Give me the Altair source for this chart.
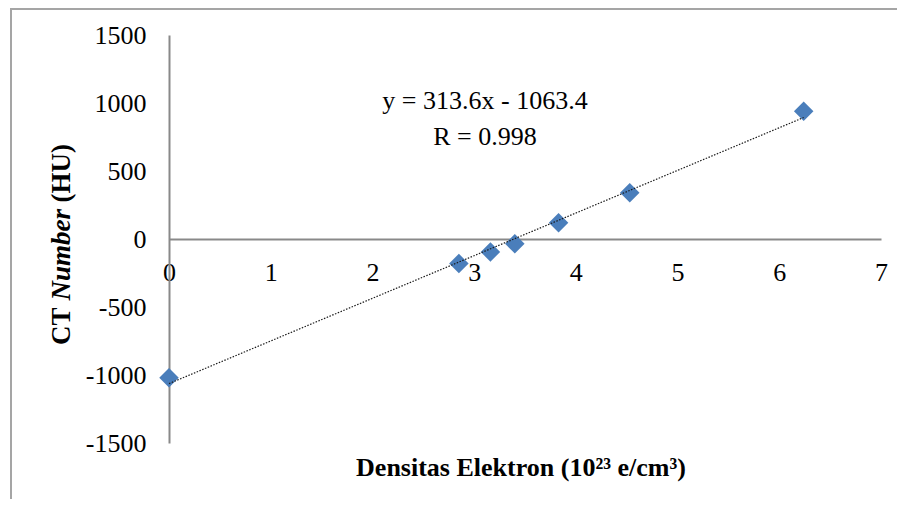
import altair as alt
import pandas as pd

# ---- data ----
x_vals = [0.0, 2.85, 3.16, 3.40, 3.83, 4.53, 6.24]
y_vals = [-1020, -180, -95, -35, 120, 340, 940]
slope = 313.6
intercept = -1063.4
r_value = 0.998
x_ticks = [0, 1, 2, 3, 4, 5, 6, 7]
y_ticks = [-1500, -1000, -500, 0, 500, 1000, 1500]

eq_text = f"y = {slope}x - {abs(intercept)}"
r_text = f"R = {r_value}"
x_title = "Densitas Elektron (10\u00b2\u00b3 e/cm\u00b3)"
y_title_parts = ["CT", "Number", "(HU)"]

W, H = 712, 408
FONT = "Liberation Serif"
FS = 26
YT_FS = 27
AXIS_COLOR = "#898989"

df = pd.DataFrame({"x": x_vals, "y": y_vals})
trend = pd.DataFrame({"x": [min(x_vals), max(x_vals)]})
trend["y"] = slope * trend["x"] + intercept

xs = alt.Scale(domain=[0, 7], nice=False, zero=False)
ys = alt.Scale(domain=[-1500, 1500], nice=False, zero=False)

x_axis = alt.Axis(values=x_ticks, offset=-H / 2, ticks=False, tickSize=0, grid=False,
                  domainColor=AXIS_COLOR, domainWidth=2, labelFont=FONT, labelFontSize=FS,
                  labelColor="black", labelPadding=20, title=None, labelFlush=False,
                  labelOverlap=False, labelExpr="'' + datum.value")
y_axis = alt.Axis(values=y_ticks, ticks=False, tickSize=0, grid=False,
                  domainColor=AXIS_COLOR, domainWidth=2, labelFont=FONT, labelFontSize=FS,
                  labelColor="black", labelPadding=23, title=None, labelFlush=False,
                  labelOverlap=False, labelBaseline="middle",
                  labelExpr="'' + datum.value")

one = pd.DataFrame({"a": [0]})

border = alt.Chart(one).mark_rect(fill="white", fillOpacity=0, stroke="#a5a5a5",
                                  strokeWidth=2).encode(
    x=alt.value(-158), y=alt.value(-26), x2=alt.value(W + 60), y2=alt.value(H + 120))

points = alt.Chart(df).mark_point(shape="diamond", filled=True, size=380,
                                  color="#4a7ebb", opacity=1).encode(
    x=alt.X("x:Q", scale=xs, axis=x_axis),
    y=alt.Y("y:Q", scale=ys, axis=y_axis),
)

line = alt.Chart(trend).mark_line(color="#1a1a1a", strokeWidth=1.2,
                                  strokeDash=[1.5, 1.5]).encode(
    x=alt.X("x:Q", scale=xs), y=alt.Y("y:Q", scale=ys))

eq = alt.Chart(pd.DataFrame({"t": [eq_text]})).mark_text(
    font=FONT, fontSize=FS, color="black", align="center", baseline="alphabetic").encode(
    x=alt.value(316), y=alt.value(74), text="t:N")
rr = alt.Chart(pd.DataFrame({"t": [r_text]})).mark_text(
    font=FONT, fontSize=FS, color="black", align="center", baseline="alphabetic").encode(
    x=alt.value(316), y=alt.value(110), text="t:N")

xt = alt.Chart(pd.DataFrame({"t": [x_title]})).mark_text(
    font=FONT, fontSize=FS, fontWeight="bold", color="black", align="center",
    baseline="middle").encode(x=alt.value(352), y=alt.value(433), text="t:N")

# y title in three pieces (bold, bold italic, bold), rotated
yt_x = -107
starts = [310.0, 265.5, 167.5]
styles = ["normal", "italic", "normal"]
ytitle_layers = []
for part, st, sy in zip(y_title_parts, styles, starts):
    ytitle_layers.append(
        alt.Chart(pd.DataFrame({"t": [part]})).mark_text(
            font=FONT, fontSize=YT_FS, fontWeight="bold", fontStyle=st, color="black",
            align="left", baseline="middle", angle=270).encode(
            x=alt.value(yt_x), y=alt.value(sy), text="t:N"))

chart = alt.layer(border, points, line, eq, rr, xt, *ytitle_layers).properties(
    width=W, height=H,
    padding={"left": 161, "top": 27, "right": 16, "bottom": 56},
    autosize=alt.AutoSizeParams(type="none"),
).configure_view(strokeWidth=0)

chart.save("out.html", embed_options={"renderer": "svg", "actions": False})
